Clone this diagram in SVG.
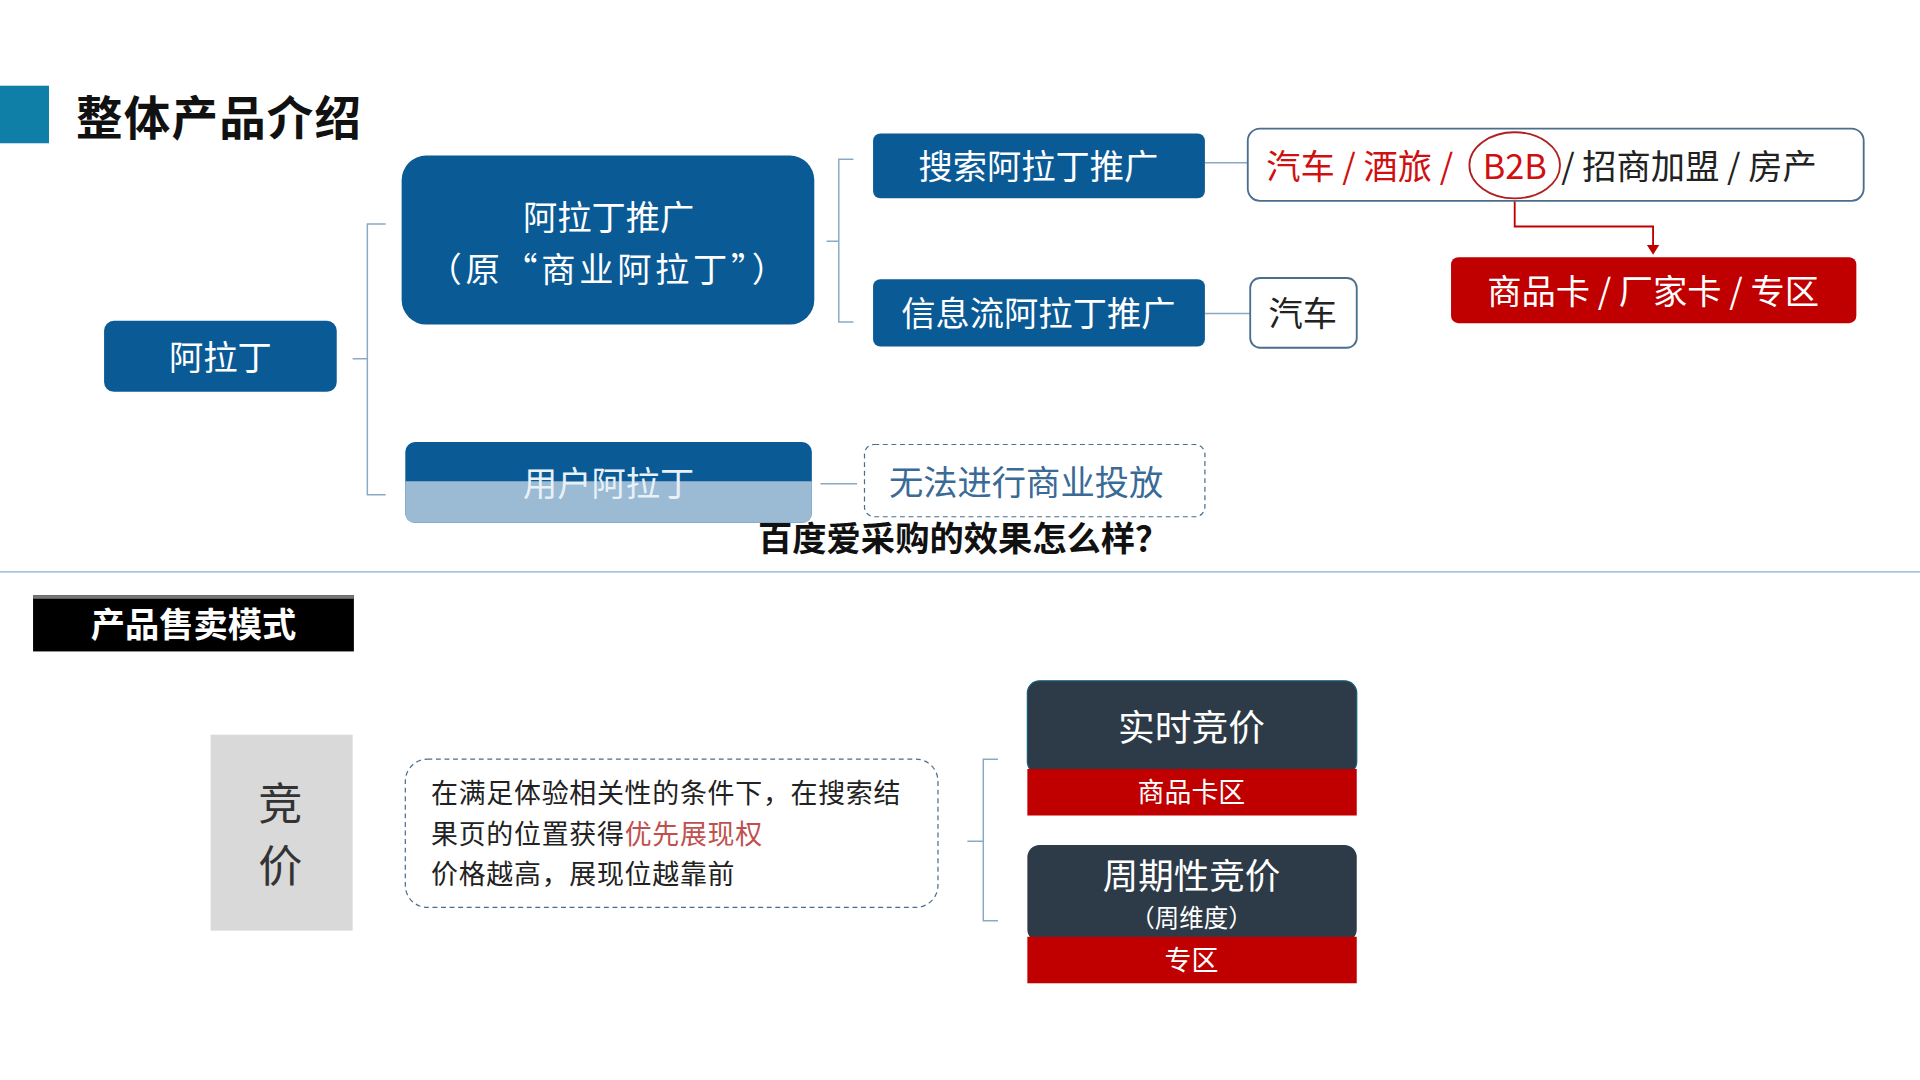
<svg xmlns="http://www.w3.org/2000/svg" width="1920" height="1080" viewBox="0 0 1920 1080">
<style>
text{font-family:"Noto Sans CJK SC","Liberation Sans",sans-serif}
.w{fill:#fff}
.blue{fill:#0a5a96}
.c{text-anchor:middle}
.ln{stroke:#8aaac4;stroke-width:1.2;fill:none}
</style>
<rect width="1920" height="1080" fill="#fff"/>
<g transform="scale(1.2245)">
<rect x="0" y="70" width="40" height="47" fill="#0f7fa8"/>
<text x="62" y="110" font-size="38" font-weight="bold" fill="#111" letter-spacing="1">整体产品介绍</text>
<g id="connectors">
<path class="ln" d="M315,183 H300 V404 H315 M300,293 H288"/>
<path class="ln" d="M697,130 H685 V263 H697 M685,197 H675"/>
<path class="ln" d="M984,133 H1019 M984,256 H1021 M670,395 H700"/>
<path d="M1237,162 V185 H1350 V202" stroke="#c00000" stroke-width="1.5" fill="none"/>
<path d="M1345,200 L1355,200 L1350,208 Z" fill="#c00000"/>
<path class="ln" d="M815,620 H803 V752 H815 M803,687 H790"/>
</g>
<g id="n1"><rect x="85" y="262" width="190" height="58" rx="8" class="blue"/><text x="180" y="302" font-size="28" class="w c">阿拉丁</text></g>
<g id="n2"><rect x="328" y="127" width="337" height="138" rx="20" class="blue"/><text x="497" y="188" font-size="28" class="w c">阿拉丁推广</text><text x="497" y="230" font-size="28" class="w c" letter-spacing="3">（原“商业阿拉丁”）</text></g>
<g id="n3"><rect x="713" y="109" width="271" height="53" rx="6" class="blue"/><text x="848" y="146" font-size="28" class="w c">搜索阿拉丁推广</text></g>
<g id="n4"><rect x="713" y="228" width="271" height="55" rx="6" class="blue"/><text x="848" y="266" font-size="28" class="w c">信息流阿拉丁推广</text></g>
<g id="n5"><rect x="1019" y="105" width="503" height="59" rx="10" fill="#fff" stroke="#4a6e8c" stroke-width="1.5"/>
<text x="1034" y="146" font-size="28" fill="#d01010" xml:space="preserve">汽车 / 酒旅 /</text>
<text x="1237" y="146" font-size="28" fill="#d01010" class="c">B2B</text>
<text x="1275" y="146" font-size="28" fill="#222" xml:space="preserve">/ 招商加盟 / 房产</text>
<ellipse cx="1237" cy="135" rx="37" ry="27" fill="none" stroke="#b02020" stroke-width="1.5"/></g>
<g id="n6"><rect x="1185" y="210" width="331" height="54" rx="6" fill="#c00000"/><text x="1350" y="248" font-size="28" class="w c">商品卡 / 厂家卡 / 专区</text></g>
<g id="n7"><rect x="1021" y="227" width="87" height="57" rx="8" fill="#fff" stroke="#4a6e8c" stroke-width="1.5"/><text x="1064" y="266" font-size="28" fill="#222" class="c">汽车</text></g>
<g id="n8"><rect x="331" y="361" width="332" height="66" rx="8" class="blue"/><path d="M331,393 H663 V419 Q663,427 655,427 H339 Q331,427 331,419 Z" fill="#9bbad4"/><text x="497" y="405" font-size="28" class="c" fill="#e8f0f8">用户阿拉丁</text></g>
<g id="n9"><rect x="706" y="363" width="278" height="59" rx="8" fill="#fff" stroke="#4a6e8c" stroke-dasharray="4,3"/><text x="838" y="404" font-size="28" class="c" fill="#3a6a96">无法进行商业投放</text></g>
<text x="787" y="450" font-size="28" font-weight="bold" class="c" fill="#111">百度爱采购的效果怎么样？</text>
<line x1="0" y1="467" x2="1568" y2="467" stroke="#a8c8dc" stroke-width="1.5"/>
<rect x="27" y="486" width="262" height="46" fill="#000"/><rect x="27" y="486" width="262" height="3" fill="#777"/>
<text x="158" y="520" font-size="28" font-weight="bold" class="w c">产品售卖模式</text>
<g id="n10"><rect x="172" y="600" width="116" height="160" fill="#d9d9d9"/><text x="229" y="670" font-size="36" class="c" fill="#333">竞</text><text x="229" y="720" font-size="36" class="c" fill="#333">价</text></g>
<g id="n11"><rect x="331" y="620" width="435" height="121" rx="18" fill="#fff" stroke="#4a6e8c" stroke-dasharray="4,3"/>
<text x="352" y="656" font-size="22" fill="#222" letter-spacing="0.6">在满足体验相关性的条件下，在搜索结</text>
<text x="352" y="689" font-size="22" fill="#222" letter-spacing="0.6">果页的位置获得<tspan fill="#c0504d">优先展现权</tspan></text>
<text x="352" y="722" font-size="22" fill="#222" letter-spacing="0.6">价格越高，展现位越靠前</text></g>
<g id="n12"><rect x="839" y="556" width="269" height="76" rx="10" fill="#2d3a47" stroke="#1a5a7a"/><rect x="839" y="628" width="269" height="38" fill="#c00000"/><text x="973" y="605" font-size="30" class="w c">实时竞价</text><text x="973" y="655" font-size="22" class="w c">商品卡区</text></g>
<g id="n13"><rect x="839" y="690" width="269" height="79" rx="10" fill="#2d3a47"/><rect x="839" y="765" width="269" height="38" fill="#c00000"/><text x="973" y="726" font-size="29" class="w c">周期性竞价</text><text x="973" y="757" font-size="20" class="w c">（周维度）</text><text x="973" y="792" font-size="22" class="w c">专区</text></g>
</g>
</svg>
